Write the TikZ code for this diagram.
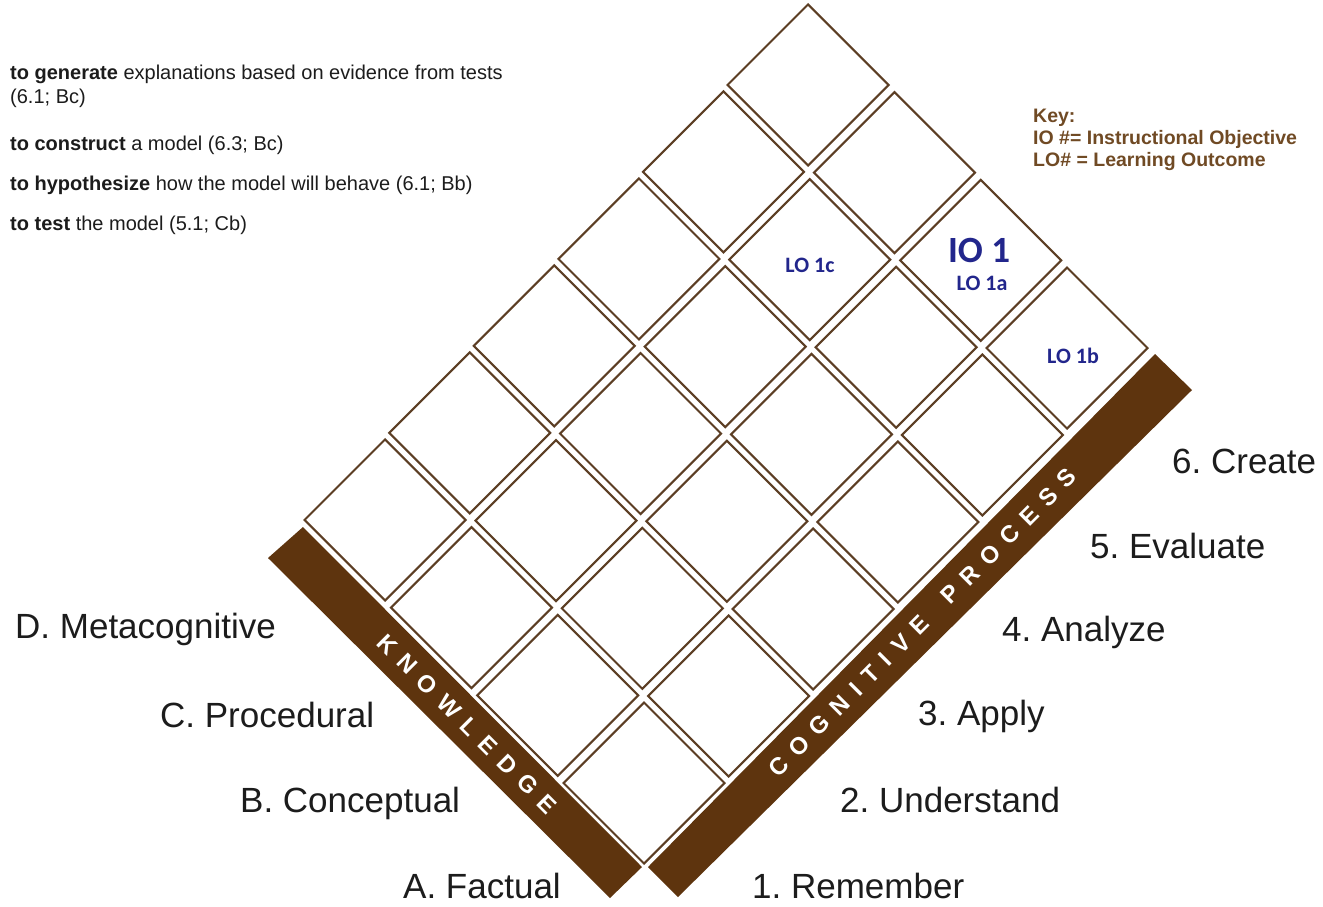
\documentclass[tikz,border=0pt]{standalone}
\usepackage{fontspec}
\setmainfont{Liberation Sans}
\newfontfamily\calib{Carlito}
\usetikzlibrary{calc}
\definecolor{barbrown}{RGB}{94,52,14}
\definecolor{linebrown}{RGB}{92,62,36}
\definecolor{keybrown}{RGB}{112,74,36}
\definecolor{lonavy}{RGB}{34,38,140}
\definecolor{txt}{RGB}{28,28,28}
\newcommand\barsp{\kern10.5pt\relax}
\begin{document}
\frenchspacing
\begin{tikzpicture}[x=1pt,y=-1pt,
  cell/.style={draw=linebrown, line width=2.1pt, line join=miter},
  bar/.style={fill=barbrown, draw=none},
  bartext/.style={text=white, font=\bfseries\fontsize{24}{24}\selectfont, inner sep=0pt, anchor=center},
  lab/.style={anchor=base west, font=\fontsize{35}{40}\selectfont, text=txt, inner sep=0pt},
  note/.style={anchor=base west, font=\fontsize{20}{24}\selectfont, text=txt, inner sep=0pt},
  keytext/.style={anchor=base west, font=\bfseries\fontsize{19.5}{22}\selectfont, text=keybrown, inner sep=0pt},
  lo/.style={font=\calib\bfseries\fontsize{22}{24}\selectfont, text=lonavy, inner sep=0pt},
  io/.style={font=\calib\bfseries\fontsize{37}{40}\selectfont, text=lonavy, inner sep=0pt}]
\useasboundingbox (0,0) rectangle (1323,906);
\fill[white] (0,0) rectangle (1323,906);

% grid of diamonds: k = knowledge (A..D), c = cognitive process (1..6)
\foreach \k in {0,...,3}{
  \foreach \c in {0,...,5}{
    \pgfmathsetmacro\cx{644+\c*84.6-\k*86.3}
    \pgfmathsetmacro\cy{783-\c*87-\k*87.7}
    \coordinate (cell-\k-\c) at (\cx,\cy);
    \draw[cell] (\cx,\cy-80.5) -- (\cx+80.5,\cy) -- (\cx,\cy+80.5) -- (\cx-80.5,\cy) -- cycle;
  }
}

% bars
\fill[bar] (303,527) -- (642,867) -- (610,898) -- (268,558) -- cycle;
\fill[bar] (648,867) -- (1155,354) -- (1192,390) -- (678,897) -- cycle;

% bar titles
\node[bartext, rotate=-45] (know) at (467,724)
  {K\barsp N\barsp O\barsp W\barsp L\barsp E\barsp D\barsp G\barsp E};
\node[bartext, rotate=45] (cogp) at (922.5,622.5)
  {C\barsp O\barsp G\barsp N\barsp I\barsp T\barsp I\barsp V\barsp E\barsp\ \barsp P\barsp R\barsp O\barsp C\barsp E\barsp S\barsp S};

% cell labels
\node[io] (io1) at (979,250) {IO 1};
\node[lo] (lo1a) at (982,283) {LO 1a};
\node[lo] (lo1b) at (1073,356) {LO 1b};
\node[lo] (lo1c) at (810,265) {LO 1c};

% axis labels right
\node[lab] (l6) at (1172,473) {6. Create};
\node[lab] (l5) at (1090,558) {5. Evaluate};
\node[lab] (l4) at (1002,641) {4. Analyze};
\node[lab] (l3) at (918,725) {3. Apply};
\node[lab] (l2) at (840,812) {2. Understand};
\node[lab] (l1) at (752,898) {1. Remember};
% axis labels left
\node[lab] (lD) at (15,638) {D. Metacognitive};
\node[lab] (lC) at (160,727) {C. Procedural};
\node[lab] (lB) at (240,812) {B. Conceptual};
\node[lab] (lA) at (403,898) {A. Factual};

% notes
\node[note] (n1) at (10,79) {\textbf{to generate} explanations based on evidence from tests};
\node[note] (n1b) at (10,103) {(6.1; Bc)};
\node[note] (n2) at (10,150) {\textbf{to construct} a model (6.3; Bc)};
\node[note] (n3) at (10,190) {\textbf{to hypothesize} how the model will behave (6.1; Bb)};
\node[note] (n4) at (10,230) {\textbf{to test} the model (5.1; Cb)};

% key
\node[keytext] (k0) at (1033,122) {Key:};
\node[keytext] (k1) at (1033,144) {IO \#= Instructional Objective};
\node[keytext] (k2) at (1033,166) {LO\# = Learning Outcome};
\end{tikzpicture}
\end{document}
